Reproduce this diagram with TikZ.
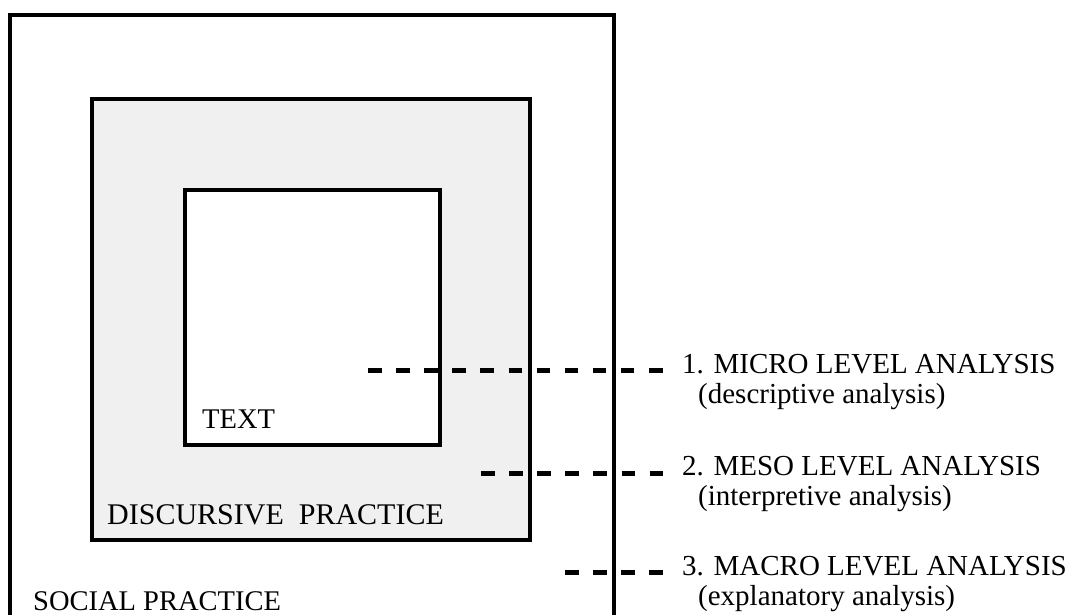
\documentclass[tikz,border=0pt]{standalone}
\usepackage{fontspec}
\setmainfont{Liberation Serif}
\definecolor{panel}{HTML}{F0F0F0}

\begin{document}
\begin{tikzpicture}[x=1pt,y=-1pt,
  frame/.style={line width=4.2pt},
  levelline/.style={line width=4.2pt,dash pattern=on 13.5pt off 14.6pt},
  boxlab/.style={anchor=base west,inner sep=0pt,font=\fontsize{28.5}{30}\selectfont},
  levlab/.style={anchor=base west,inner xsep=17pt,inner ysep=0pt,font=\fontsize{29}{31}\selectfont}]
  \useasboundingbox (0,0) rectangle (1075,615);
  % three nested practices
  \draw[frame] (10,615) -- (10,15) -- (614,15) -- (614,615);
  \draw[frame,fill=panel] (92,99) rectangle (530,540);
  \draw[frame,fill=white] (185,190) rectangle (440,445);
  \node[boxlab] (text) at (202,428) {TEXT};
  \node[boxlab,font=\fontsize{30}{32}\selectfont] (disc) at (107,524) {DISCURSIVE\ \ PRACTICE};
  \node[boxlab] (social) at (33,610) {SOCIAL PRACTICE};
  % levels of analysis
  \node[levlab] (micro) at (665,373) {1. MICRO LEVEL ANALYSIS};
  \node[levlab] (microsub) at (681,403) {(descriptive analysis)};
  \node[levlab] (meso) at (665,475) {2. MESO LEVEL ANALYSIS};
  \node[levlab] (mesosub) at (681,505) {(interpretive analysis)};
  \node[levlab] (macro) at (665,575) {3. MACRO LEVEL ANALYSIS};
  \node[levlab] (macrosub) at (681,605) {(explanatory analysis)};
  \coordinate (m1) at (368,370.5);
  \coordinate (m2) at (481,473.5);
  \coordinate (m3) at (565,572.5);
  \draw[levelline] (m1) -- (m1 -| micro.west);
  \draw[levelline] (m2) -- (m2 -| meso.west);
  \draw[levelline] (m3) -- (m3 -| macro.west);
\end{tikzpicture}
\end{document}
